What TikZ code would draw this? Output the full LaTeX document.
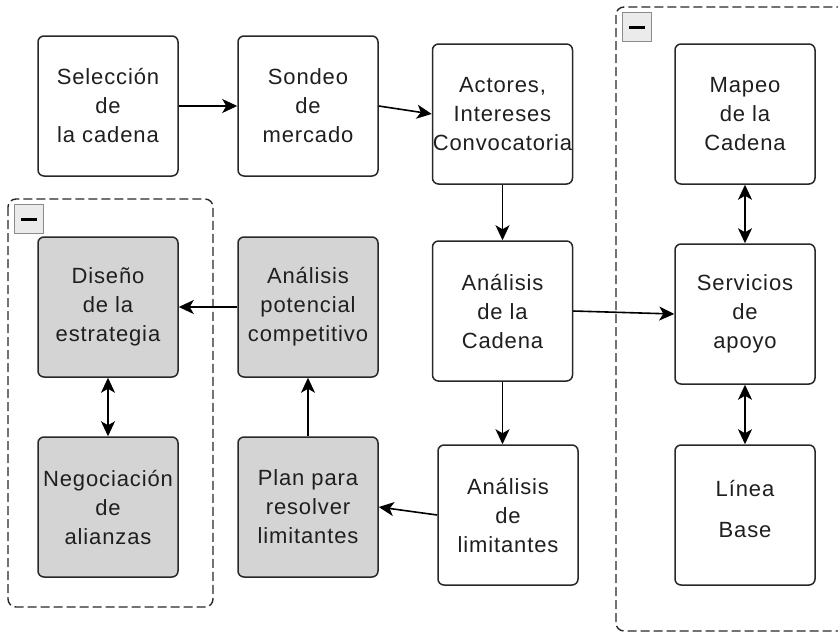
\documentclass[tikz,border=0pt]{standalone}
\usepackage{fontspec}
\setmainfont{Liberation Sans}[LetterSpace=4]
\usetikzlibrary{arrows.meta}
\definecolor{boxgray}{RGB}{212,212,212}
\definecolor{edge}{RGB}{40,40,40}
\begin{document}
\begin{tikzpicture}[x=1pt,y=-1pt,
  box/.style={draw=edge, line width=1.5pt, rounded corners=6pt, minimum width=140pt, minimum height=140pt, align=center, font=\fontsize{22}{29}\selectfont, inner sep=0pt, fill=white, text=black!88},
  gbox/.style={box, fill=boxgray},
  conn/.style={line width=1.6pt, -{Stealth[length=15pt,width=14pt,inset=4pt]}},
  dconn/.style={line width=1.6pt, {Stealth[length=15pt,width=14pt,inset=4pt]}-{Stealth[length=15pt,width=14pt,inset=4pt]}},
  grp/.style={draw=edge, line width=1.4pt, dash pattern=on 9pt off 4pt, rounded corners=8pt},
  collapse/.style={draw=black!45, fill=black!8, minimum size=29pt, inner sep=0pt, line width=1.2pt},
  bar/.style={line width=3pt, black}
]
\useasboundingbox (0,0) rectangle (838,633);
% groups
\draw[grp] (616,7) rectangle (870,631);
\draw[grp] (8,199) rectangle (213,607);
\node[collapse] (c1) at (637,27) {};
\draw[bar] ([xshift=-8pt]c1.center) -- ([xshift=8pt]c1.center);
\node[collapse] (c2) at (29,219) {};
\draw[bar] ([xshift=-8pt]c2.center) -- ([xshift=8pt]c2.center);
% nodes
\node[box] (sel) at (108,106) {Selección\\de\\la cadena};
\node[box] (son) at (308,106) {Sondeo\\de\\mercado};
\node[box] (act) at (502.5,114) {Actores,\\Intereses\\Convocatoria};
\node[box] (cad) at (502.5,311) {Análisis\\de la\\Cadena};
\node[box] (lim) at (508,515) {Análisis\\de\\limitantes};
\node[gbox] (plan) at (308,507) {Plan para\\resolver\\limitantes};
\node[gbox] (pot) at (308,307) {Análisis\\potencial\\competitivo};
\node[gbox] (dis) at (108,307) {Diseño\\de la\\estrategia};
\node[gbox] (neg) at (108,507) {Negociación\\de\\alianzas};
\node[box] (map) at (745,114) {Mapeo\\de la\\Cadena};
\node[box] (ser) at (745,314) {Servicios\\de\\apoyo};
\node[box] (lin) at (745,515) {};
\node[font=\fontsize{22}{29}\selectfont, text=black!88, align=center, inner sep=0pt] (lintxt) at ([yshift=6pt]lin.center) {Línea\\[12pt]Base};
% connectors
\draw[conn] (sel) -- (son);
\draw[conn] (son.east) -- (act.west);
\draw[conn] (act) -- (cad);
\draw[conn] (cad.east) -- (ser.west);
\draw[conn] (cad.south) -- (cad.south |- lim.north);
\draw[conn] (lim.west) -- (plan.east);
\draw[conn] (plan) -- (pot);
\draw[conn] (pot) -- (dis);
\draw[dconn] (dis) -- (neg);
\draw[dconn] (map) -- (ser);
\draw[dconn] (ser) -- (lin);
\end{tikzpicture}
\end{document}
